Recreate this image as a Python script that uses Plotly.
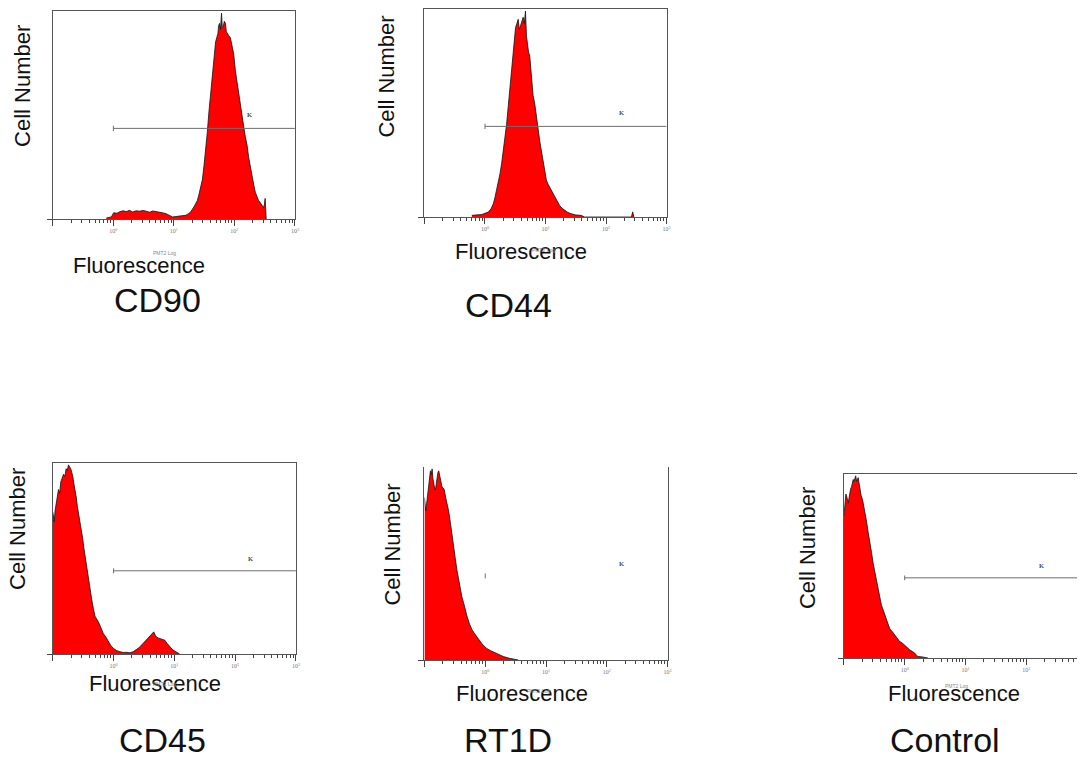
import plotly.graph_objects as go

# ---------------- data (log10 fluorescence exponent, normalized cell count) ----------------
cd90_log = [-0.115, -0.033, 0.005, 0.06, 0.104, 0.16, 0.215, 0.268, 0.32, 0.377, 0.43, 0.49, 0.541, 0.6, 0.65,
            0.705, 0.76, 0.814, 0.87, 0.923, 0.978, 1.03, 1.087, 1.14, 1.197, 1.24, 1.279, 1.333, 1.388, 1.415,
            1.443, 1.470, 1.498, 1.525, 1.552, 1.579, 1.607, 1.634, 1.661, 1.689, 1.708, 1.727, 1.740, 1.754,
            1.770, 1.787, 1.800, 1.814, 1.833, 1.852, 1.866, 1.880, 1.907, 1.934, 1.962, 1.989, 2.016, 2.044,
            2.071, 2.098, 2.126, 2.153, 2.180, 2.208, 2.235, 2.262, 2.290, 2.317, 2.345, 2.372, 2.399, 2.426,
            2.454, 2.481, 2.495, 2.508, 2.515, 2.525]
cd90_cnt = [0.005, 0.010, 0.030, 0.028, 0.035, 0.040, 0.036, 0.042, 0.034, 0.040, 0.038, 0.041, 0.038, 0.033, 0.039,
            0.037, 0.032, 0.030, 0.026, 0.020, 0.010, 0.012, 0.014, 0.016, 0.018, 0.026, 0.035, 0.060, 0.090, 0.120,
            0.160, 0.190, 0.260, 0.330, 0.420, 0.520, 0.610, 0.700, 0.790, 0.860, 0.880, 0.900, 0.940, 0.950,
            0.920, 1.000, 0.930, 0.930, 0.960, 0.950, 0.910, 0.900, 0.890, 0.880, 0.840, 0.800, 0.720, 0.660,
            0.620, 0.570, 0.500, 0.450, 0.400, 0.360, 0.300, 0.250, 0.210, 0.170, 0.130, 0.110, 0.090, 0.080,
            0.065, 0.055, 0.070, 0.100, 0.060, 0.0]

cd44_log = [-0.217, -0.135, -0.053, 0.0, 0.056, 0.100, 0.138, 0.165, 0.193, 0.220, 0.248, 0.275, 0.302, 0.330,
            0.357, 0.385, 0.412, 0.440, 0.467, 0.486, 0.505, 0.527, 0.549, 0.568, 0.587, 0.610, 0.631, 0.650,
            0.669, 0.685, 0.702, 0.720, 0.740, 0.768, 0.795, 0.822, 0.850, 0.877, 0.904, 0.931, 0.959, 0.986,
            1.014, 1.041, 1.068, 1.110, 1.150, 1.190, 1.233, 1.275, 1.315, 1.370, 1.424, 1.500, 1.588, 1.643,
            2.420, 2.440, 2.460]
cd44_cnt = [0.008, 0.010, 0.012, 0.018, 0.024, 0.040, 0.064, 0.095, 0.130, 0.170, 0.210, 0.260, 0.320, 0.390,
            0.450, 0.540, 0.630, 0.720, 0.790, 0.870, 0.920, 0.940, 0.960, 0.910, 0.930, 0.950, 0.970, 0.940,
            1.000, 0.880, 0.820, 0.800, 0.780, 0.680, 0.590, 0.550, 0.500, 0.430, 0.370, 0.320, 0.270, 0.220,
            0.180, 0.160, 0.145, 0.120, 0.096, 0.075, 0.056, 0.042, 0.032, 0.022, 0.016, 0.010, 0.008, 0.0,
            0.0, 0.025, 0.0]

cd45_log = [-1.0, -0.978, -0.962, -0.945, -0.926, -0.907, -0.888, -0.869, -0.847, -0.825, -0.803, -0.781,
            -0.762, -0.743, -0.724, -0.705, -0.688, -0.672, -0.653, -0.634, -0.615, -0.596, -0.574, -0.552,
            -0.530, -0.508, -0.489, -0.470, -0.443, -0.415, -0.388, -0.361, -0.333, -0.306, -0.279, -0.251,
            -0.210, -0.169, -0.128, -0.087, -0.046, -0.005, 0.050, 0.104, 0.160, 0.213, 0.270, 0.322, 0.365,
            0.404, 0.445, 0.486, 0.527, 0.568, 0.596, 0.623, 0.642, 0.661, 0.683, 0.705, 0.733, 0.760, 0.800,
            0.842, 0.883, 0.923, 0.964, 1.005, 1.087]
cd45_cnt = [0.750, 0.700, 0.760, 0.800, 0.820, 0.870, 0.850, 0.910, 0.930, 0.950, 0.940, 0.980, 0.970,
            1.000, 0.990, 0.980, 0.960, 0.940, 0.900, 0.870, 0.830, 0.780, 0.740, 0.690, 0.650, 0.610, 0.560,
            0.520, 0.450, 0.380, 0.340, 0.290, 0.240, 0.200, 0.185, 0.170, 0.140, 0.108, 0.090, 0.065, 0.045,
            0.030, 0.018, 0.012, 0.008, 0.009, 0.006, 0.012, 0.020, 0.030, 0.042, 0.056, 0.068, 0.082, 0.090,
            0.100, 0.108, 0.117, 0.100, 0.090, 0.085, 0.082, 0.078, 0.073, 0.055, 0.038, 0.025, 0.016, 0.0]

rt1d_log = [-1.0, -0.989, -0.978, -0.967, -0.956, -0.942, -0.929, -0.915, -0.902, -0.888, -0.874, -0.861,
            -0.847, -0.834, -0.820, -0.806, -0.793, -0.779, -0.765, -0.752, -0.738, -0.725, -0.711, -0.692,
            -0.673, -0.651, -0.629, -0.602, -0.574, -0.547, -0.520, -0.492, -0.465, -0.438, -0.411, -0.384,
            -0.356, -0.329, -0.301, -0.260, -0.220, -0.180, -0.138, -0.097, -0.056, -0.015, 0.026, 0.080,
            0.135, 0.190, 0.244, 0.298, 0.353, 0.410, 0.462, 0.544]
rt1d_cnt = [0.850, 0.800, 0.780, 0.810, 0.840, 0.880, 0.920, 0.960, 0.990, 0.970, 1.000, 0.950,
            0.920, 0.900, 0.890, 0.930, 0.960, 0.980, 0.990, 0.970, 0.960, 0.930, 0.905, 0.900,
            0.890, 0.850, 0.820, 0.780, 0.720, 0.650, 0.590, 0.530, 0.470, 0.420, 0.370, 0.330,
            0.300, 0.260, 0.230, 0.190, 0.160, 0.140, 0.120, 0.100, 0.086, 0.072, 0.060, 0.050,
            0.043, 0.034, 0.026, 0.018, 0.012, 0.008, 0.005, 0.0]

ctrl_log = [-1.0, -0.989, -0.978, -0.967, -0.956, -0.942, -0.929, -0.915, -0.902, -0.888, -0.874, -0.861,
            -0.847, -0.833, -0.820, -0.806, -0.792, -0.779, -0.765, -0.751, -0.738, -0.716, -0.694, -0.675,
            -0.656, -0.628, -0.601, -0.573, -0.546, -0.519, -0.492, -0.464, -0.437, -0.410, -0.383, -0.355,
            -0.328, -0.287, -0.246, -0.205, -0.164, -0.123, -0.082, -0.041, 0.0, 0.041, 0.082, 0.123, 0.164,
            0.192, 0.219, 0.290, 0.355, 0.383]
ctrl_cnt = [0.780, 0.820, 0.870, 0.900, 0.890, 0.870, 0.850, 0.880, 0.920, 0.930, 0.940, 0.960,
            0.980, 0.970, 0.990, 1.000, 0.970, 0.980, 0.990, 0.960, 0.920, 0.890, 0.870, 0.840,
            0.800, 0.750, 0.690, 0.640, 0.580, 0.520, 0.470, 0.420, 0.380, 0.330, 0.290, 0.265,
            0.240, 0.200, 0.160, 0.145, 0.127, 0.105, 0.090, 0.082, 0.072, 0.058, 0.045, 0.035, 0.027,
            0.015, 0.008, 0.006, 0.004, 0.0]

panel_names = ["CD90", "CD44", "CD45", "RT1D", "Control"]
panel_logs = [cd90_log, cd44_log, cd45_log, rt1d_log, ctrl_log]
panel_cnts = [cd90_cnt, cd44_cnt, cd45_cnt, rt1d_cnt, ctrl_cnt]

gate_start = 1.0          # gate begins at 10^0
gate_end = 1000.0         # gate runs to the top of scale
gate_level = 0.44         # height of the gate bar (fraction of peak)
gate_drawn = [True, True, True, False, True]
gate_label = "K"
gate_label_y = 0.505

tick_vals = [0.1, 1, 10, 100, 1000]
tick_text = ["", "10<sup>0</sup>", "10<sup>1</sup>", "10<sup>2</sup>", "10<sup>3</sup>"]

x_title = "Fluorescence"
y_title = "Cell Number"
sub_title = "PMT2 Log"

# ---------------- layout geometry (pixels of the page; the page body has an 8 px margin) ----------------
W, H = 1085, 757
OFF = 8
def px(x):
    return (x - OFF) / W
def py(y):
    return 1 - (y - OFF) / H

frames = [  # left, right, top, bottom in page px
    (53, 296, 11, 219),
    (426, 669, 9, 217),
    (53, 297, 463, 654),
    (426, 670, 467, 660),
    (847, 1085, 474, 658),
]
x_ranges = [[-1, 3], [-1, 3], [-1, 3], [-1, 3], [-1, 2.9]]
x_mirror = [True, True, True, False, True]
y_mirror = [True, True, True, True, False]

ylab_pos = [(22, 86), (388, 77), (17, 529), (393, 545), (810, 548)]
xlab_pos = [(139, 265), (523, 252), (156, 683), (524, 693), (958, 693)]
name_pos = [(158, 300), (510, 305), (163, 740), (510, 740), (948, 740)]
sub_pos = [(165, 253), (545, 250), (165, 684), (540, 691), (960, 686)]

fig = go.Figure()
annotations = []

def ann(x, y, text, size, color, family, angle=0):
    return dict(x=px(x), y=py(y), xref="paper", yref="paper", text=text, textangle=angle,
                showarrow=False, xanchor="center", yanchor="middle",
                font=dict(size=size, color=color, family=family))

for i in range(5):
    ax = "" if i == 0 else str(i + 1)
    xa, ya = "x" + ax, "y" + ax
    xs = [10 ** v for v in panel_logs[i]]
    fig.add_trace(go.Scatter(
        x=xs, y=panel_cnts[i], xaxis=xa, yaxis=ya, mode="lines",
        line=dict(color="#111111", width=0.8), fill="tozeroy", fillcolor="#ff0000",
        hoverinfo="skip", showlegend=False))
    # gate bar
    if gate_drawn[i]:
        fig.add_trace(go.Scatter(
            x=[gate_start, gate_end], y=[gate_level, gate_level], xaxis=xa, yaxis=ya,
            mode="lines", line=dict(color="#6e6e6e", width=1), hoverinfo="skip", showlegend=False))
    fig.add_trace(go.Scatter(
        x=[gate_start, gate_start], y=[gate_level - 0.013, gate_level + 0.013], xaxis=xa, yaxis=ya,
        mode="lines", line=dict(color="#6e6e6e", width=1), hoverinfo="skip", showlegend=False))
    annotations.append(dict(x=2.25, y=gate_label_y, xref=xa, yref=ya, text=gate_label,
                            showarrow=False, xanchor="center", yanchor="middle",
                            font=dict(size=7, color="#000000", family="Liberation Serif")))

    l, r, t, b = frames[i]
    fig.layout["xaxis" + ax] = dict(
        domain=[px(l), min(px(r), 1.0)], type="log", range=x_ranges[i], anchor=ya,
        showline=True, linecolor="#555555", linewidth=1, mirror=x_mirror[i],
        showgrid=False, zeroline=False,
        tickvals=tick_vals, ticktext=tick_text, ticks="outside", ticklen=6, tickcolor="#444444",
        tickfont=dict(size=6, color="#777777", family="Liberation Serif"),
        minor=dict(ticks="outside", ticklen=3, dtick="D1", tickcolor="#444444", showgrid=False),
    )
    fig.layout["yaxis" + ax] = dict(
        domain=[py(b), py(t)], range=[0, 1.01], anchor=xa,
        showline=True, linecolor="#555555", linewidth=1, mirror=y_mirror[i],
        showgrid=False, zeroline=False, tickvals=[0], ticks="outside", ticklen=5,
        tickcolor="#444444", showticklabels=False,
    )

    annotations.append(ann(ylab_pos[i][0], ylab_pos[i][1], y_title, 22, "#111111", "Liberation Sans", -90))
    annotations.append(ann(xlab_pos[i][0], xlab_pos[i][1], x_title, 22, "#111111", "Liberation Sans"))
    annotations.append(ann(sub_pos[i][0], sub_pos[i][1], sub_title, 5, "#888888", "Liberation Sans"))
    annotations.append(ann(name_pos[i][0], name_pos[i][1], panel_names[i], 34, "#111111", "Liberation Sans"))

fig.update_layout(
    width=W, height=H, margin=dict(l=0, r=0, t=0, b=0),
    paper_bgcolor="white", plot_bgcolor="white", showlegend=False,
    annotations=annotations,
)

fig.write_html("out.html")
